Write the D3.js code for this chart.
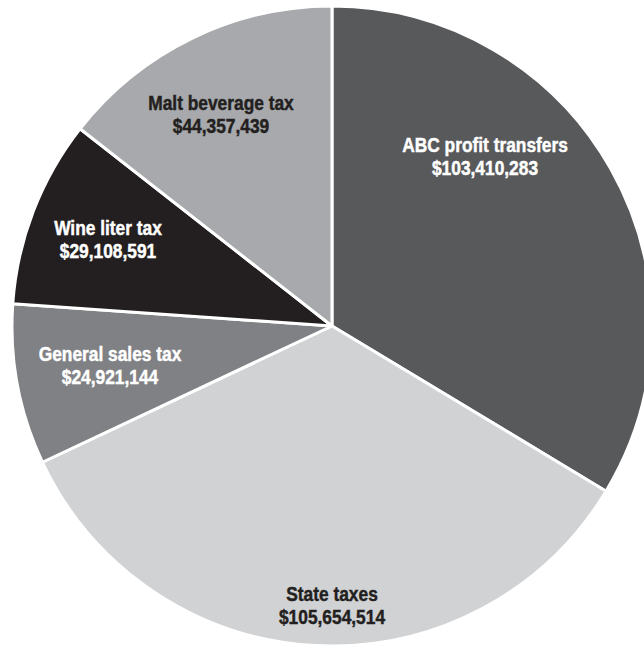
<!DOCTYPE html>
<html>
<head>
<meta charset="utf-8">
<script src="https://cdn.jsdelivr.net/npm/d3@7"></script>
<style>
html,body{margin:0;padding:0;background:#fff;}
svg{display:block;}
</style>
</head>
<body>
<svg id="chart" width="644" height="646"></svg>
<script>
// Data
const categories = ["ABC profit transfers", "State taxes", "General sales tax", "Wine liter tax", "Malt beverage tax"];
const values = [103410283, 105654514, 24921144, 29108591, 44357439];
const colors = ["#58595b", "#d1d2d4", "#808184", "#231f20", "#a7a9ac"];
const textColors = ["#ffffff", "#231f20", "#ffffff", "#ffffff", "#231f20"];

// Layout (label anchor points, pixels)
const labelAnchors = [[485, 152], [332, 601], [110, 361], [108, 235], [221, 110]];

const W = 644, H = 646;
const cx = 332, cy = 326, R = 320;

const svg = d3.select("#chart");
const g = svg.append("g").attr("transform", `translate(${cx},${cy})`);

const pie = d3.pie().sort(null).value(d => d.value);
const arc = d3.arc().innerRadius(0).outerRadius(R);

const data = categories.map((c, i) => ({name: c, value: values[i], i}));
const arcs = pie(data);

g.selectAll("path.slice")
  .data(arcs)
  .join("path")
  .attr("class", "slice")
  .attr("d", arc)
  .attr("fill", d => colors[d.data.i])
  .attr("stroke", "#ffffff")
  .attr("stroke-width", 3)
  .attr("stroke-linejoin", "round");

const fmt = d3.format("$,");

const labels = svg.selectAll("text.lbl")
  .data(data)
  .join("text")
  .attr("class", "lbl")
  .attr("transform", d => `translate(${labelAnchors[d.i][0]},${labelAnchors[d.i][1]}) scale(0.89,1)`)
  .attr("text-anchor", "middle")
  .attr("fill", d => textColors[d.i])
  .attr("stroke", d => textColors[d.i])
  .attr("stroke-width", 0.45)
  .style("font-family", "'Liberation Sans', Arial, sans-serif")
  .style("font-weight", "bold")
  .style("font-size", "19.5px");

labels.append("tspan")
  .attr("x", 0)
  .text(d => d.name);
labels.append("tspan")
  .attr("x", 0)
  .attr("dy", 23.5)
  .text(d => fmt(d.value));
</script>
</body>
</html>
